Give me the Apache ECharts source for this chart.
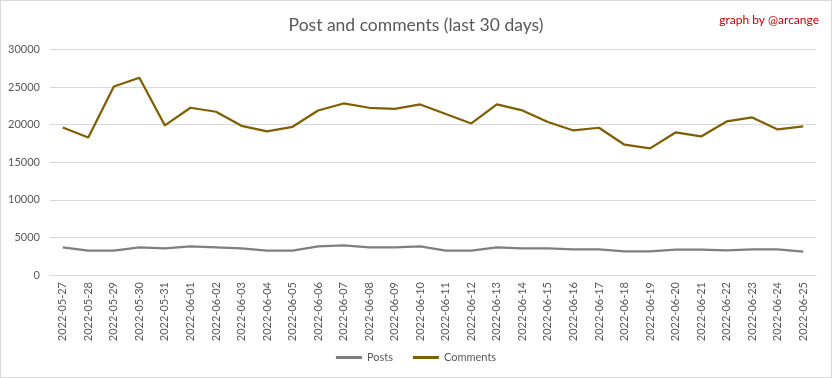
<!DOCTYPE html>
<html><head><meta charset="utf-8">
<script src="https://cdn.jsdelivr.net/npm/echarts@6/dist/echarts.min.js"></script>
<style>
html,body{margin:0;padding:0;background:#fff;}
#c{position:absolute;left:0;top:0;width:830px;height:376px;border:1px solid #d9d9d9;}
</style></head><body>
<div id="c"></div>
<script>
const categories = ["2022-05-27","2022-05-28","2022-05-29","2022-05-30","2022-05-31","2022-06-01","2022-06-02","2022-06-03","2022-06-04","2022-06-05","2022-06-06","2022-06-07","2022-06-08","2022-06-09","2022-06-10","2022-06-11","2022-06-12","2022-06-13","2022-06-14","2022-06-15","2022-06-16","2022-06-17","2022-06-18","2022-06-19","2022-06-20","2022-06-21","2022-06-22","2022-06-23","2022-06-24","2022-06-25"];
const posts = [3670,3230,3230,3670,3540,3800,3670,3540,3230,3230,3800,3940,3670,3670,3800,3250,3250,3670,3540,3540,3400,3400,3140,3140,3380,3380,3270,3400,3400,3100];
const comments = [19630,18300,25080,26240,19900,22250,21720,19850,19100,19720,21890,22820,22250,22110,22690,21420,20160,22690,21890,20350,19230,19590,17330,16840,18960,18430,20430,20960,19360,19760];
const yTicks = {min:0, max:30000, interval:5000};

const font = 'Lato, "Open Sans", sans-serif';
const chart = echarts.init(document.getElementById('c'), null, {renderer:'canvas'});
chart.setOption({
  animation:false,
  textStyle:{fontFamily:font},
  title:[
    {text:'Post and comments (last 30 days)', left:'center', top:10,
     textStyle:{fontFamily:font, fontSize:17.5, fontWeight:'normal', color:'#595959'}},
    {text:'graph by @arcange', right:7, top:8,
     textStyle:{fontFamily:font, fontSize:12, fontWeight:'normal', color:'#c00000'}}
  ],
  legend:{
    bottom:9, left:'center', itemWidth:26, itemHeight:3, itemGap:20, icon:'rect',
    textStyle:{fontFamily:font, fontSize:11, color:'#595959'},
    data:['Posts','Comments']
  },
  grid:{left:49, right:15, top:48.5, bottom:102, containLabel:false},
  xAxis:{
    type:'category', data:categories, boundaryGap:true,
    axisLine:{lineStyle:{color:'#d9d9d9'}},
    axisTick:{show:false},
    axisLabel:{rotate:90, interval:0, color:'#595959', fontSize:11, fontFamily:font, margin:7}
  },
  yAxis:{
    type:'value', min:yTicks.min, max:yTicks.max, interval:yTicks.interval,
    axisLine:{show:false}, axisTick:{show:false},
    axisLabel:{color:'#595959', fontSize:11, fontFamily:font, margin:10, formatter:function(v){return String(v);}},
    splitLine:{lineStyle:{color:'#d9d9d9', width:1}}
  },
  series:[
    {name:'Posts', type:'line', data:posts, showSymbol:false, symbol:'none',
     lineStyle:{color:'#7f7f7f', width:2.25}, itemStyle:{color:'#7f7f7f'}},
    {name:'Comments', type:'line', data:comments, showSymbol:false, symbol:'none',
     lineStyle:{color:'#7f6000', width:2.25}, itemStyle:{color:'#7f6000'}}
  ]
});
</script>
</body></html>
